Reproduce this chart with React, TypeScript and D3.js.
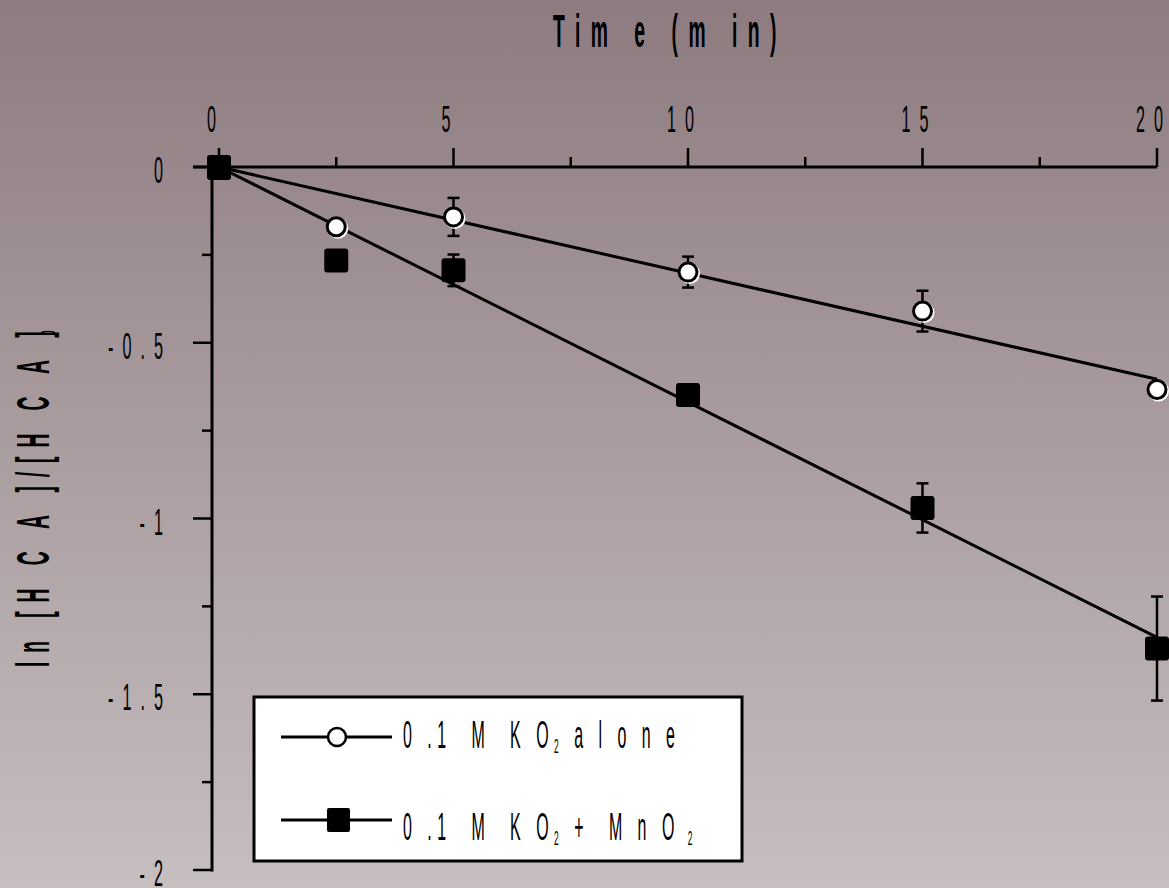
import React from "react";
import * as d3 from "d3";

const times = [0, 2.5, 5, 10, 15, 20];
const aloneValues = [0, -0.17, -0.142, -0.299, -0.41, -0.633];
const aloneErrors = [0, 0, 0.054, 0.044, 0.058, 0];
const mnValues = [0, -0.266, -0.294, -0.649, -0.97, -1.37];
const mnErrors = [0, 0, 0.045, 0, 0.07, 0.148];
const fitSlopes = [-0.0302, -0.0669];
const xMajorTicks = [0, 5, 10, 15, 20];
const xMinorTicks = [2.5, 7.5, 12.5, 17.5];
const yMajorTicks = [0, -0.5, -1, -1.5, -2];
const yMinorTicks = [-0.25, -0.75, -1.25, -1.75];
const xTickLabels = ["0", "5", "10", "15", "20"];
const yTickLabels = ["0", "-0.5", "-1", "-1.5", "-2"];

const W = 1169;
const H = 888;
const FONT = "'Liberation Sans', Arial, sans-serif";

type STextProps = {
  x: number;
  y: number;
  sx: number;
  size: number;
  ls: number;
  weight?: string | number;
  anchor?: "start" | "middle" | "end";
  rotate?: number;
  children: React.ReactNode;
};

function SText({ x, y, sx, size, ls, weight = "normal", anchor = "start", rotate, children }: STextProps) {
  const t = `translate(${x},${y})${rotate ? ` rotate(${rotate})` : ""} scale(${sx},1)`;
  return (
    <text
      transform={t}
      fontSize={size}
      fontWeight={weight}
      letterSpacing={ls / sx}
      textAnchor={anchor}
      fontFamily={FONT}
      fill="#000"
      style={{ whiteSpace: "pre" }}
    >
      {children}
    </text>
  );
}

export default function App() {
  const x = d3.scaleLinear().domain([0, 20]).range([219, 1157]);
  const y = d3.scaleLinear().domain([0, -2]).range([167, 870]);
  const axisX = 212;

  const errBar = (t: number, v: number, e: number, key: string) => {
    if (!e) return null;
    const cx = x(t);
    const y1 = y(v + e);
    const y2 = y(v - e);
    return (
      <g key={key} stroke="#000" strokeWidth={2.5}>
        <line x1={cx} x2={cx} y1={y1} y2={y2} />
        <line x1={cx - 6} x2={cx + 6} y1={y1} y2={y1} />
        <line x1={cx - 6} x2={cx + 6} y1={y2} y2={y2} />
      </g>
    );
  };

  return (
    <svg
      width={W}
      height={H}
      style={{ position: "fixed", left: 0, top: 0, display: "block" }}
    >
      <defs>
        <linearGradient id="bg" x1="0" y1="0" x2="0" y2="1">
          <stop offset="0%" stopColor="rgb(141,123,127)" />
          <stop offset="100%" stopColor="rgb(198,190,191)" />
        </linearGradient>
      </defs>
      <rect x={0} y={0} width={W} height={H} fill="url(#bg)" />

      {/* Title */}
      <SText x={553} y={47} sx={0.42} size={46} ls={10.5} weight="bold">
        Tim e (m in)
      </SText>

      {/* Y axis title */}
      <SText x={49} y={667} sx={0.42} size={46} ls={8.9} weight="bold" rotate={-90}>
        ln [H C A ]/[H C A ]
        <tspan fontSize={20} dy={6} dx={-30}>0</tspan>
      </SText>

      {/* X axis (top) */}
      <line x1={193} x2={x(20)} y1={y(0)} y2={y(0)} stroke="#000" strokeWidth={3} />
      {xMajorTicks.map((t) => (
        <line key={"xM" + t} x1={x(t)} x2={x(t)} y1={y(0)} y2={y(0) - 19} stroke="#000" strokeWidth={2.5} />
      ))}
      {xMinorTicks.map((t) => (
        <line key={"xm" + t} x1={x(t)} x2={x(t)} y1={y(0)} y2={y(0) - 10} stroke="#000" strokeWidth={2.5} />
      ))}
      {xMajorTicks.map((t, i) => (
        <SText key={"xl" + t} x={x(t) - 3} y={132} sx={0.45} size={36} ls={9} anchor="middle">
          {xTickLabels[i]}
        </SText>
      ))}

      {/* Y axis */}
      <line x1={axisX} x2={axisX} y1={y(0) - 1.5} y2={y(-2) + 1.5} stroke="#000" strokeWidth={3} />
      {yMajorTicks.map((v) => (
        <line key={"yM" + v} x1={axisX - 19} x2={axisX} y1={y(v)} y2={y(v)} stroke="#000" strokeWidth={2.5} />
      ))}
      {yMinorTicks.map((v) => (
        <line key={"ym" + v} x1={axisX - 10} x2={axisX} y1={y(v)} y2={y(v)} stroke="#000" strokeWidth={2.5} />
      ))}
      {yMajorTicks.map((v, i) => (
        <SText key={"yl" + v} x={172} y={y(v) + 16} sx={0.45} size={36} ls={9} anchor="end">
          {yTickLabels[i]}
        </SText>
      ))}

      {/* Fit lines */}
      {fitSlopes.map((s, i) => (
        <path
          key={"fit" + i}
          d={d3.line<number>().x((t) => x(t)).y((t) => y(s * t))([0, 20]) as string}
          fill="none"
          stroke="#000"
          strokeWidth={3}
        />
      ))}

      {/* Error bars */}
      {times.map((t, i) => errBar(t, aloneValues[i], aloneErrors[i], "ea" + i))}
      {times.map((t, i) => errBar(t, mnValues[i], mnErrors[i], "em" + i))}

      {/* Square markers */}
      {times.map((t, i) => (
        <rect
          key={"sq" + i}
          x={x(t) - 12}
          y={y(mnValues[i]) - 12}
          width={24}
          height={24}
          rx={3}
          fill="#000"
        />
      ))}

      {/* Circle markers */}
      {times.slice(1).map((t, j) => {
        const i = j + 1;
        return (
          <g key={"ci" + i}>
            <circle cx={x(t) + 1.5} cy={y(aloneValues[i]) + 1.5} r={10.5} fill="#fff" />
            <circle cx={x(t)} cy={y(aloneValues[i])} r={9} fill="#fff" stroke="#000" strokeWidth={3} />
          </g>
        );
      })}
      <rect x={x(0) - 12} y={y(0) - 11} width={24} height={24} rx={3} fill="#000" />

      {/* Legend */}
      <rect x={254} y={697} width={488} height={164} fill="#fff" stroke="#000" strokeWidth={3} />
      <line x1={281} x2={392} y1={737} y2={737} stroke="#000" strokeWidth={3} />
      <circle cx={337} cy={737} r={9} fill="#fff" stroke="#000" strokeWidth={2.5} />
      <line x1={281} x2={392} y1={820} y2={820} stroke="#000" strokeWidth={3} />
      <rect x={327} y={808} width={23} height={24} rx={2} fill="#000" />
      <SText x={403} y={748} sx={0.42} size={38} ls={5.5}>
        {"0 .1  M  K O"}
        <tspan fontSize={20} dy={5}>2</tspan>
        <tspan dy={-5}>{" a l o n e"}</tspan>
      </SText>
      <SText x={403} y={840} sx={0.42} size={38} ls={5.5}>
        {"0 .1  M  K O"}
        <tspan fontSize={20} dy={5}>2</tspan>
        <tspan dy={-5}>{" +  M n O"}</tspan>
        <tspan fontSize={20} dy={5}>{" 2"}</tspan>
      </SText>
    </svg>
  );
}
